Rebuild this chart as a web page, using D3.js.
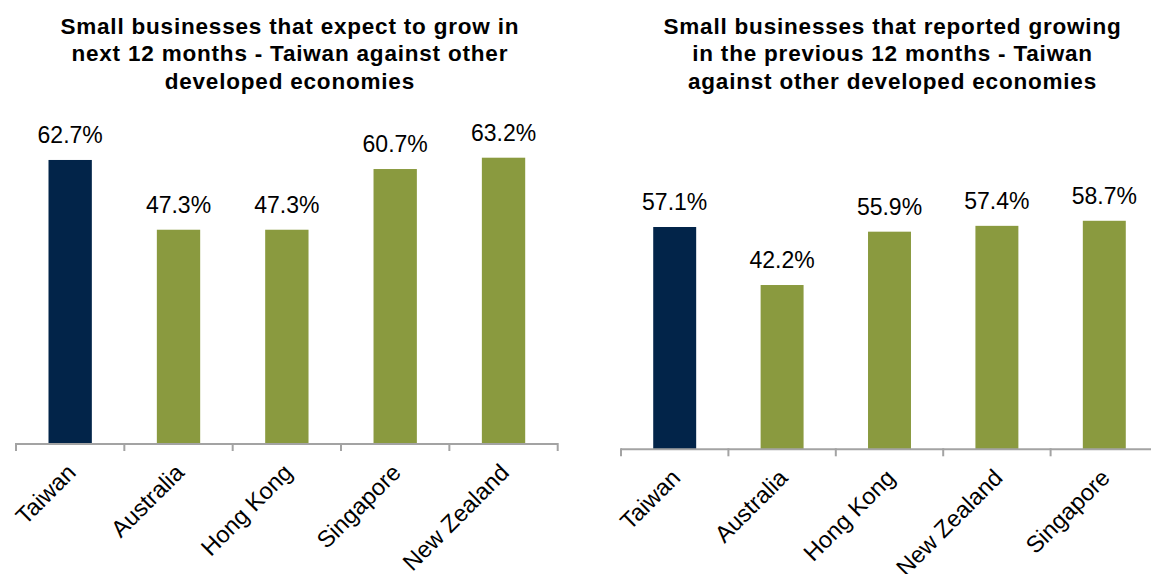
<!DOCTYPE html>
<html>
<head>
<meta charset="utf-8">
<script src="https://cdn.jsdelivr.net/npm/d3@7"></script>
<style>
  html, body { margin: 0; padding: 0; background: #fff; }
  svg { display: block; }
  text { font-family: "Liberation Sans", Arial, sans-serif; fill: #000; }
</style>
</head>
<body>
<svg id="chart" width="1151" height="574"></svg>
<script>
// Survey results: share of small businesses (%)
const expectCategories = ["Taiwan", "Australia", "Hong Kong", "Singapore", "New Zealand"];
const expectValues = [62.7, 47.3, 47.3, 60.7, 63.2];
const expectTitle = ["Small businesses that expect to grow in", "next 12 months - Taiwan against other", "developed economies"];

const reportedCategories = ["Taiwan", "Australia", "Hong Kong", "New Zealand", "Singapore"];
const reportedValues = [57.1, 42.2, 55.9, 57.4, 58.7];
const reportedTitle = ["Small businesses that reported growing", "in the previous 12 months - Taiwan", "against other developed economies"];

const highlight = "Taiwan";
const navy = "#022449";
const olive = "#8A9A3F";
const axisGrey = "#a3a3a3";

const svg = d3.select("#chart");

function panel(cfg) {
  const g = svg.append("g");
  const pad = 0.6;
  const x = d3.scaleBand()
    .domain(cfg.categories)
    .range([cfg.x0, cfg.x1])
    .paddingInner(pad)
    .paddingOuter(pad / 2);
  const y = d3.scaleLinear()
    .domain([0, cfg.yMax])
    .range([cfg.base, cfg.top]);

  const data = cfg.categories.map((c, i) => ({ c, v: cfg.values[i] }));

  // title
  const cx = (cfg.x0 + cfg.x1) / 2 + 3;
  const t = g.append("text")
    .attr("text-anchor", "middle")
    .attr("font-weight", "bold")
    .attr("font-size", 22.5)
    .attr("letter-spacing", 0.8);
  cfg.title.forEach((line, i) => {
    t.append("tspan").attr("x", cx).attr("y", 34 + i * 27.3).text(line);
  });

  // bars
  g.selectAll("rect.bar").data(data).join("rect")
    .attr("class", "bar")
    .attr("x", d => x(d.c))
    .attr("width", x.bandwidth())
    .attr("y", d => y(d.v))
    .attr("height", d => y(0) - y(d.v))
    .attr("fill", d => d.c === highlight ? navy : olive);

  // value labels
  g.selectAll("text.val").data(data).join("text")
    .attr("class", "val")
    .attr("text-anchor", "middle")
    .attr("font-size", 23)
    .attr("x", d => x(d.c) + x.bandwidth() / 2)
    .attr("y", d => y(d.v) - 17)
    .text(d => d.v.toFixed(1) + "%");

  // category axis with ticks between categories
  const step = x.step();
  const bounds = cfg.categories.map(c => x(c) - step * pad / 2);
  bounds.push(cfg.x1);
  g.append("line")
    .attr("x1", cfg.x0).attr("x2", cfg.x1)
    .attr("y1", y(0)).attr("y2", y(0))
    .attr("stroke", axisGrey).attr("stroke-width", 2);
  g.selectAll("line.tick").data(bounds).join("line")
    .attr("class", "tick")
    .attr("x1", d => d).attr("x2", d => d)
    .attr("y1", y(0) - 1).attr("y2", y(0) + 7)
    .attr("stroke", axisGrey).attr("stroke-width", 2);

  // rotated category labels
  g.selectAll("text.cat").data(data).join("text")
    .attr("class", "cat")
    .attr("text-anchor", "end")
    .attr("font-size", 23.5)
    .attr("transform", d => {
      const ax = x(d.c) + x.bandwidth() / 2 + 7;
      const ay = y(0) + 30;
      return `translate(${ax},${ay}) rotate(-45)`;
    })
    .text(d => d.c);
}

panel({
  categories: expectCategories, values: expectValues, title: expectTitle,
  x0: 16, x1: 557.7, base: 444, top: 444 - 70 * 4.53, yMax: 70
});
panel({
  categories: reportedCategories, values: reportedValues, title: reportedTitle,
  x0: 621, x1: 1158, base: 449.3, top: 449.3 - 80 * 3.893, yMax: 80
});
</script>
</body>
</html>
